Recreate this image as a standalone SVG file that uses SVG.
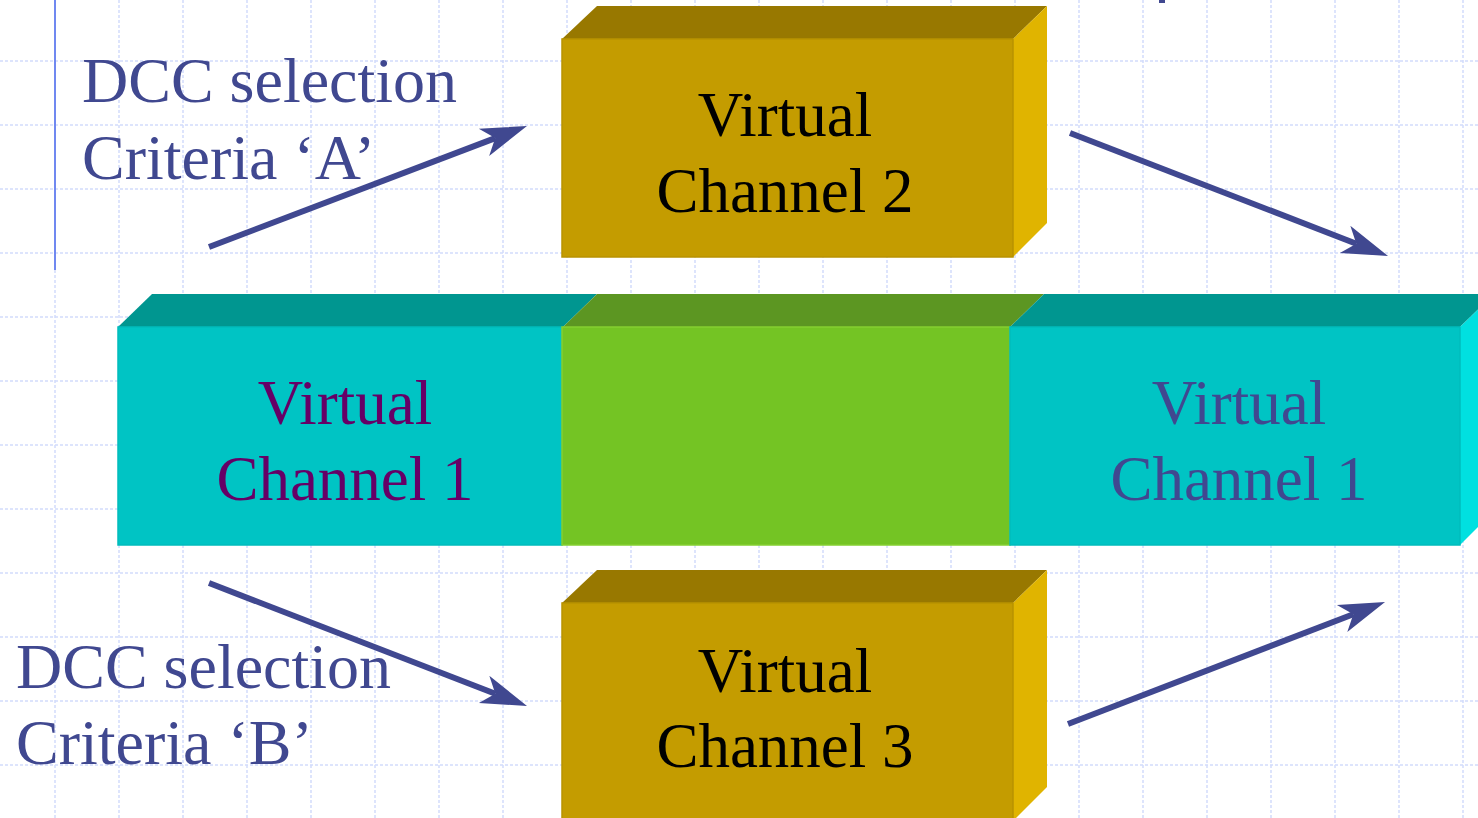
<svg xmlns="http://www.w3.org/2000/svg" width="1478" height="818" viewBox="0 0 1478 818">
<style>
.grid{stroke:#d2dcfc;stroke-width:1.5;stroke-dasharray:3 2;fill:none}
.txt{font-family:"Liberation Serif","Times New Roman",serif;font-size:63px;text-anchor:middle}
.lbl{font-family:"Liberation Serif","Times New Roman",serif;font-size:64px;fill:#404890}
.arr{stroke:#404890;stroke-width:6;fill:none;marker-end:url(#ah)}
.gold-top{fill:#987800}
.gold-side{fill:#e0b400}
.gold-front{fill:#c49c00;stroke:#b89200;stroke-width:1.5}
.cy-top{fill:#009690}
.cy-front{fill:#00c4c4;stroke:#00bcbc;stroke-width:1.5}
.cy-side{fill:#00e0e0}
.gr-top{fill:#5c9622}
.gr-front{fill:#74c424;stroke:#84d030;stroke-width:1.5}
</style>
<defs>
<marker id="ah" markerUnits="userSpaceOnUse" markerWidth="50" markerHeight="32" viewBox="0 -16 48 32" refX="12" refY="0" orient="auto" overflow="visible">
<path d="M46,0 L0,-14.5 L12,0 L0,14.5 Z" fill="#404890"/>
</marker>
</defs>
<rect width="1478" height="818" fill="#ffffff"/>
<g id="background">
<path class="grid" d="M0 61H1478M0 125H1478M0 189H1478M0 253H1478M0 317H1478M0 381H1478M0 445H1478M0 509H1478M0 573H1478M0 637H1478M0 701H1478M0 765H1478"/>
<path class="grid" d="M55 270V818M119 0V818M183 0V818M247 0V818M311 0V818M375 0V818M439 0V818M503 0V818M567 0V818M631 0V818M695 0V818M759 0V818M823 0V818M887 0V818M951 0V818M1015 0V818M1079 0V818M1143 0V818M1207 0V818M1271 0V818M1335 0V818M1399 0V818M1463 0V818"/>
<line x1="55" y1="0" x2="55" y2="270" stroke="#7088f0" stroke-width="2"/>
<rect x="1159" y="0" width="6" height="3" fill="#404890"/>
</g>
<g id="bar-vc1-left">
<polygon class="cy-top" points="118,327 152,294 597,294 563,327"/>
<rect class="cy-front" x="118" y="327" width="444" height="218"/>
<text class="txt" fill="#660066" x="345" y="424">Virtual</text>
<text class="txt" fill="#660066" x="345" y="500">Channel 1</text>
</g>
<g id="bar-middle">
<polygon class="gr-top" points="563,327 597,294 1044,294 1010,327"/>
<rect class="gr-front" x="562" y="327" width="448" height="218"/>
</g>
<g id="bar-vc1-right">
<polygon class="cy-top" points="1010,327 1044,294 1494,294 1460,327"/>
<polygon class="cy-side" points="1460,327 1494,294 1494,511 1460,545"/>
<rect class="cy-front" x="1010" y="327" width="450" height="218"/>
<text class="txt" fill="#404890" x="1239" y="424">Virtual</text>
<text class="txt" fill="#404890" x="1239" y="500">Channel 1</text>
</g>
<g id="vc2">
<polygon class="gold-top" points="562,39 597,6 1047,6 1013,39"/>
<polygon class="gold-side" points="1013,39 1047,6 1047,223 1013,257"/>
<rect class="gold-front" x="562" y="39" width="451" height="218"/>
<text class="txt" fill="#000000" x="785" y="136">Virtual</text>
<text class="txt" fill="#000000" x="785" y="212">Channel 2</text>
</g>
<g id="vc3">
<polygon class="gold-top" points="562,603 597,570 1047,570 1013,603"/>
<polygon class="gold-side" points="1013,603 1047,570 1047,787 1013,821"/>
<rect class="gold-front" x="562" y="603" width="451" height="218"/>
<text class="txt" fill="#000000" x="785" y="692">Virtual</text>
<text class="txt" fill="#000000" x="785" y="767">Channel 3</text>
</g>
<g id="label-a">
<text class="lbl" x="82" y="102">DCC selection</text>
<text class="lbl" x="82" y="179">Criteria ‘A’</text>
</g>
<g id="label-b">
<text class="lbl" x="16" y="688">DCC selection</text>
<text class="lbl" x="16" y="764">Criteria ‘B’</text>
</g>
<g id="connectors">
<line class="arr" x1="209" y1="247" x2="495.2" y2="138.1"/>
<line class="arr" x1="1070" y1="133" x2="1356.3" y2="243.7"/>
<line class="arr" x1="209" y1="583" x2="495.3" y2="693.7"/>
<line class="arr" x1="1068" y1="724" x2="1353.3" y2="614.2"/>
</g>
</svg>
